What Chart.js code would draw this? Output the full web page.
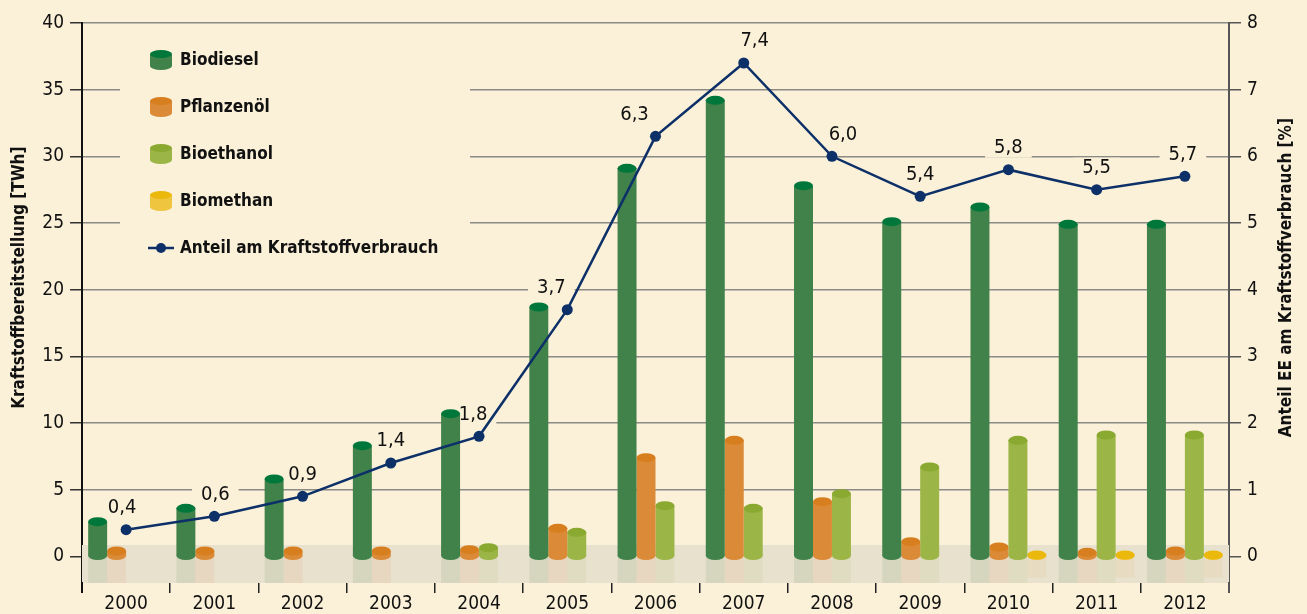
<!DOCTYPE html>
<html>
<head>
<meta charset="utf-8">
<script src="https://cdn.jsdelivr.net/npm/chart.js@4.4.1/dist/chart.umd.min.js"></script>
<style>
  html, body { margin: 0; padding: 0; background: #fbf1d8; overflow: hidden; }
  #wrap { position: relative; width: 1307px; height: 614px; }
</style>
</head>
<body>
<div id="wrap"><canvas id="chart_kraftstoff" width="1307" height="614"></canvas></div>
<script>
// Werte
const years = ['2000', '2001', '2002', '2003', '2004', '2005', '2006', '2007', '2008', '2009', '2010', '2011', '2012'];
const biodiesel = [2.6, 3.6, 5.8, 8.3, 10.7, 18.7, 29.1, 34.2, 27.8, 25.1, 26.2, 24.9, 24.9];
const pflanzenoel = [0.4, 0.4, 0.4, 0.4, 0.5, 2.1, 7.4, 8.7, 4.1, 1.1, 0.7, 0.3, 0.4];
const bioethanol = [null, null, null, null, 0.65, 1.8, 3.8, 3.6, 4.7, 6.7, 8.7, 9.1, 9.1];
const biomethan = [null, null, null, null, null, null, null, null, null, null, 0.1, 0.1, 0.1];
const anteil = [0.4, 0.6, 0.9, 1.4, 1.8, 3.7, 6.3, 7.4, 6.0, 5.4, 5.8, 5.5, 5.7];
const leftTicks = [0, 5, 10, 15, 20, 25, 30, 35, 40];
const rightTicks = [0, 1, 2, 3, 4, 5, 6, 7, 8];

// kleine Verschiebung der Wertebeschriftung (px)
const labelNudge = [-4, 1, 0, 0, -6, -16, -21, 11, 11, 0, 0, 0, -2];

const BG = '#fbf1d8';
const NAVY = '#0d3068';
const FONT = "'Liberation Sans Narrow', 'DejaVu Sans Condensed', 'Arial Narrow', sans-serif";
const BOLD = "'DejaVu Sans Condensed', 'Liberation Sans Narrow', sans-serif";
const LABEL_FONT = '20px ' + FONT;

function ellipse(ctx, x, y, rx, ry, color){
	ctx.beginPath();
	ctx.ellipse(x, y, rx, ry, 0, 0, Math.PI * 2);
	ctx.fillStyle = color;
	ctx.fill();
}

function lineLabels(chart, fn){
	const lineIdx = chart.data.datasets.findIndex(function(d){ return d.type === 'line'; });
	chart.getDatasetMeta(lineIdx).data.forEach(function(pt, j){
		const txt = anteil[j].toFixed(1).replace('.', ',');
		fn(txt, pt.x + labelNudge[j], pt.y - 22);
	});
}

const cylinderPlugin = {
	id: 'cylinders',
	beforeDraw(chart){
		const ctx = chart.ctx;
		ctx.save();
		ctx.fillStyle = BG;
		ctx.fillRect(0, 0, chart.width, chart.height);
		ctx.restore();
	},
	beforeDatasetsDraw(chart){
		const ctx = chart.ctx;
		const area = chart.chartArea;
		const y = chart.scales.y;
		ctx.save();
		// Boden
		const bandTop = y.getPixelForValue(0.85);
		ctx.fillStyle = '#e8e1ce';
		ctx.fillRect(area.left, bandTop, area.right - area.left, area.bottom - bandTop);
		// Spiegelung unter den Säulen
		chart.data.datasets.forEach(function(ds, i){
			if(ds.type !== 'bar') return;
			const meta = chart.getDatasetMeta(i);
			meta.data.forEach(function(bar, j){
				if(ds.data[j] === null) return;
				const p = bar.getProps(['x', 'base', 'width'], true);
				ctx.fillStyle = ds.shadeColor;
				const h = ds.label === 'Biomethan' ? (area.bottom - p.base) * 0.8 : area.bottom - p.base;
				ctx.fillRect(p.x - p.width / 2, p.base, p.width, h);
			});
		});
		// Legendenfläche und Beschriftungsflächen decken nur die Gitterlinien ab
		ctx.fillStyle = BG;
		ctx.fillRect(area.left + 38, area.top + 10, 350, 238);
		ctx.font = LABEL_FONT;
		lineLabels(chart, function(txt, x, yy){
			const w = ctx.measureText(txt).width;
			ctx.fillRect(x - w / 2 - 9, yy - 10, w + 18, 20);
		});
		ctx.restore();
	},
	afterDatasetDraw(chart, args){
		const ds = chart.data.datasets[args.index];
		if(ds.type !== 'bar') return;
		const ctx = chart.ctx;
		ctx.save();
		args.meta.data.forEach(function(bar, j){
			if(ds.data[j] === null) return;
			const p = bar.getProps(['x', 'y', 'base', 'width'], true);
			const rx = p.width / 2;
			ellipse(ctx, p.x, p.base, rx, 4.5, ds.backgroundColor);
			ellipse(ctx, p.x, p.y, rx, 4.5, ds.topColor);
		});
		ctx.restore();
	},
	afterDatasetsDraw(chart){
		const ctx = chart.ctx;
		const area = chart.chartArea;
		ctx.save();
		// Wertebeschriftung der Linie
		ctx.font = LABEL_FONT;
		ctx.textAlign = 'center';
		ctx.textBaseline = 'middle';
		ctx.fillStyle = '#111';
		lineLabels(chart, function(txt, x, yy){
			ctx.fillText(txt, x, yy);
		});

		// Legende: Säulen zuerst, Linie zuletzt
		const items = chart.data.datasets.filter(function(d){ return d.type === 'bar'; })
			.concat(chart.data.datasets.filter(function(d){ return d.type === 'line'; }));
		const lx = area.left + 68;
		let ly = area.top + 37;
		ctx.font = 'bold 17px ' + BOLD;
		ctx.textAlign = 'left';
		ctx.textBaseline = 'middle';
		items.forEach(function(ds){
			if(ds.type === 'bar'){
				ctx.fillStyle = ds.backgroundColor;
				ctx.fillRect(lx, ly - 6, 22, 12);
				ellipse(ctx, lx + 11, ly + 6, 11, 4, ds.backgroundColor);
				ellipse(ctx, lx + 11, ly - 6, 11, 4, ds.topColor);
			}else{
				ctx.strokeStyle = NAVY;
				ctx.lineWidth = 2.5;
				ctx.beginPath();
				ctx.moveTo(lx - 2, ly);
				ctx.lineTo(lx + 24, ly);
				ctx.stroke();
				ellipse(ctx, lx + 11, ly, 5, 5, NAVY);
			}
			ctx.fillStyle = '#111';
			ctx.fillText(ds.label, lx + 30, ly + 1);
			ly += 47;
		});

		// Achsentitel
		const midY = chart.scales.y.getPixelForValue(20) - 12;
		ctx.font = 'bold 17px ' + BOLD;
		ctx.textAlign = 'center';
		ctx.fillStyle = '#111';
		ctx.translate(20, midY);
		ctx.rotate(-Math.PI / 2);
		ctx.fillText('Kraftstoffbereitstellung [TWh]', 0, 0);
		ctx.setTransform(1, 0, 0, 1, 0, 0);
		ctx.translate(chart.width - 20, midY);
		ctx.rotate(-Math.PI / 2);
		ctx.fillText('Anteil EE am Kraftstoffverbrauch [%]', 0, 0);
		ctx.restore();
	},
	afterDraw(chart){
		const ctx = chart.ctx;
		const area = chart.chartArea;
		ctx.save();
		ctx.lineWidth = 2;
		ctx.strokeStyle = '#111';
		ctx.beginPath();
		ctx.moveTo(area.left, area.bottom - 1);
		ctx.lineTo(area.left, area.bottom + 10);
		ctx.stroke();
		ctx.strokeStyle = '#555';
		ctx.beginPath();
		ctx.moveTo(area.right, area.bottom - 1);
		ctx.lineTo(area.right, area.bottom + 10);
		ctx.stroke();
		ctx.restore();
	}
};

const ctx = document.getElementById('chart_kraftstoff').getContext('2d');
const config = {
	data: {
		labels: years,
		datasets: [{
			type: 'line',
			label: 'Anteil am Kraftstoffverbrauch',
			data: anteil,
			yAxisID: 'y1',
			borderColor: NAVY,
			backgroundColor: NAVY,
			borderWidth: 2.5,
			pointRadius: 5.5,
			pointBackgroundColor: NAVY,
			pointBorderWidth: 0,
			tension: 0,
			order: 0
		}, {
			type: 'bar',
			label: 'Biodiesel',
			data: biodiesel,
			yAxisID: 'y',
			backgroundColor: '#40824a',
			topColor: '#00773a',
			shadeColor: 'rgba(60,120,60,0.10)',
			order: 1
		}, {
			type: 'bar',
			label: 'Pflanzenöl',
			data: pflanzenoel,
			yAxisID: 'y',
			backgroundColor: '#db8a37',
			topColor: '#d77e1e',
			shadeColor: 'rgba(230,150,90,0.12)',
			order: 1
		}, {
			type: 'bar',
			label: 'Bioethanol',
			data: bioethanol,
			yAxisID: 'y',
			backgroundColor: '#9bb546',
			topColor: '#8aa930',
			shadeColor: 'rgba(130,160,70,0.08)',
			order: 1
		}, {
			type: 'bar',
			label: 'Biomethan',
			data: biomethan,
			yAxisID: 'y',
			backgroundColor: '#efc540',
			topColor: '#ebb80c',
			shadeColor: 'rgba(230,170,60,0.08)',
			order: 1
		}]
	},
	options: {
		responsive: false,
		animation: false,
		layout: { autoPadding: false, padding: { top: 23, left: 0, right: 0, bottom: 0 } },
		datasets: { bar: { categoryPercentage: 0.86, barPercentage: 1.0, borderWidth: 0 } },
		plugins: { legend: { display: false }, tooltip: { enabled: false } },
		scales: {
			x: {
				offset: true,
				afterFit: function(s){ s.height = 31; },
				grid: { offset: true, drawOnChartArea: false, drawTicks: true, tickLength: 10, color: '#222', lineWidth: 1.5 },
				border: { display: false },
				ticks: { color: '#111', font: { family: FONT, size: 19 }, padding: 0, maxRotation: 0 }
			},
			y: {
				position: 'left',
				min: -2,
				max: 40,
				afterFit: function(s){ s.width = 82; },
				afterBuildTicks: function(s){ s.ticks = leftTicks.map(function(v){ return { value: v }; }); },
				grid: { color: '#8a8a86', lineWidth: 1.5, tickLength: 12, tickColor: '#333' },
				border: { display: true, color: '#111', width: 2 },
				ticks: { color: '#111', font: { family: FONT, size: 19 }, padding: 6 }
			},
			y1: {
				position: 'right',
				min: -0.4,
				max: 8,
				afterFit: function(s){ s.width = 78; },
				afterBuildTicks: function(s){ s.ticks = rightTicks.map(function(v){ return { value: v }; }); },
				grid: { drawOnChartArea: false, tickLength: 12, tickColor: '#555', lineWidth: 1.5 },
				border: { display: true, color: '#555', width: 2 },
				ticks: { color: '#111', font: { family: FONT, size: 19 }, padding: 6 }
			}
		}
	},
	plugins: [cylinderPlugin]
};
const chart_kraftstoff = new Chart(ctx, config);
</script>
</body>
</html>
